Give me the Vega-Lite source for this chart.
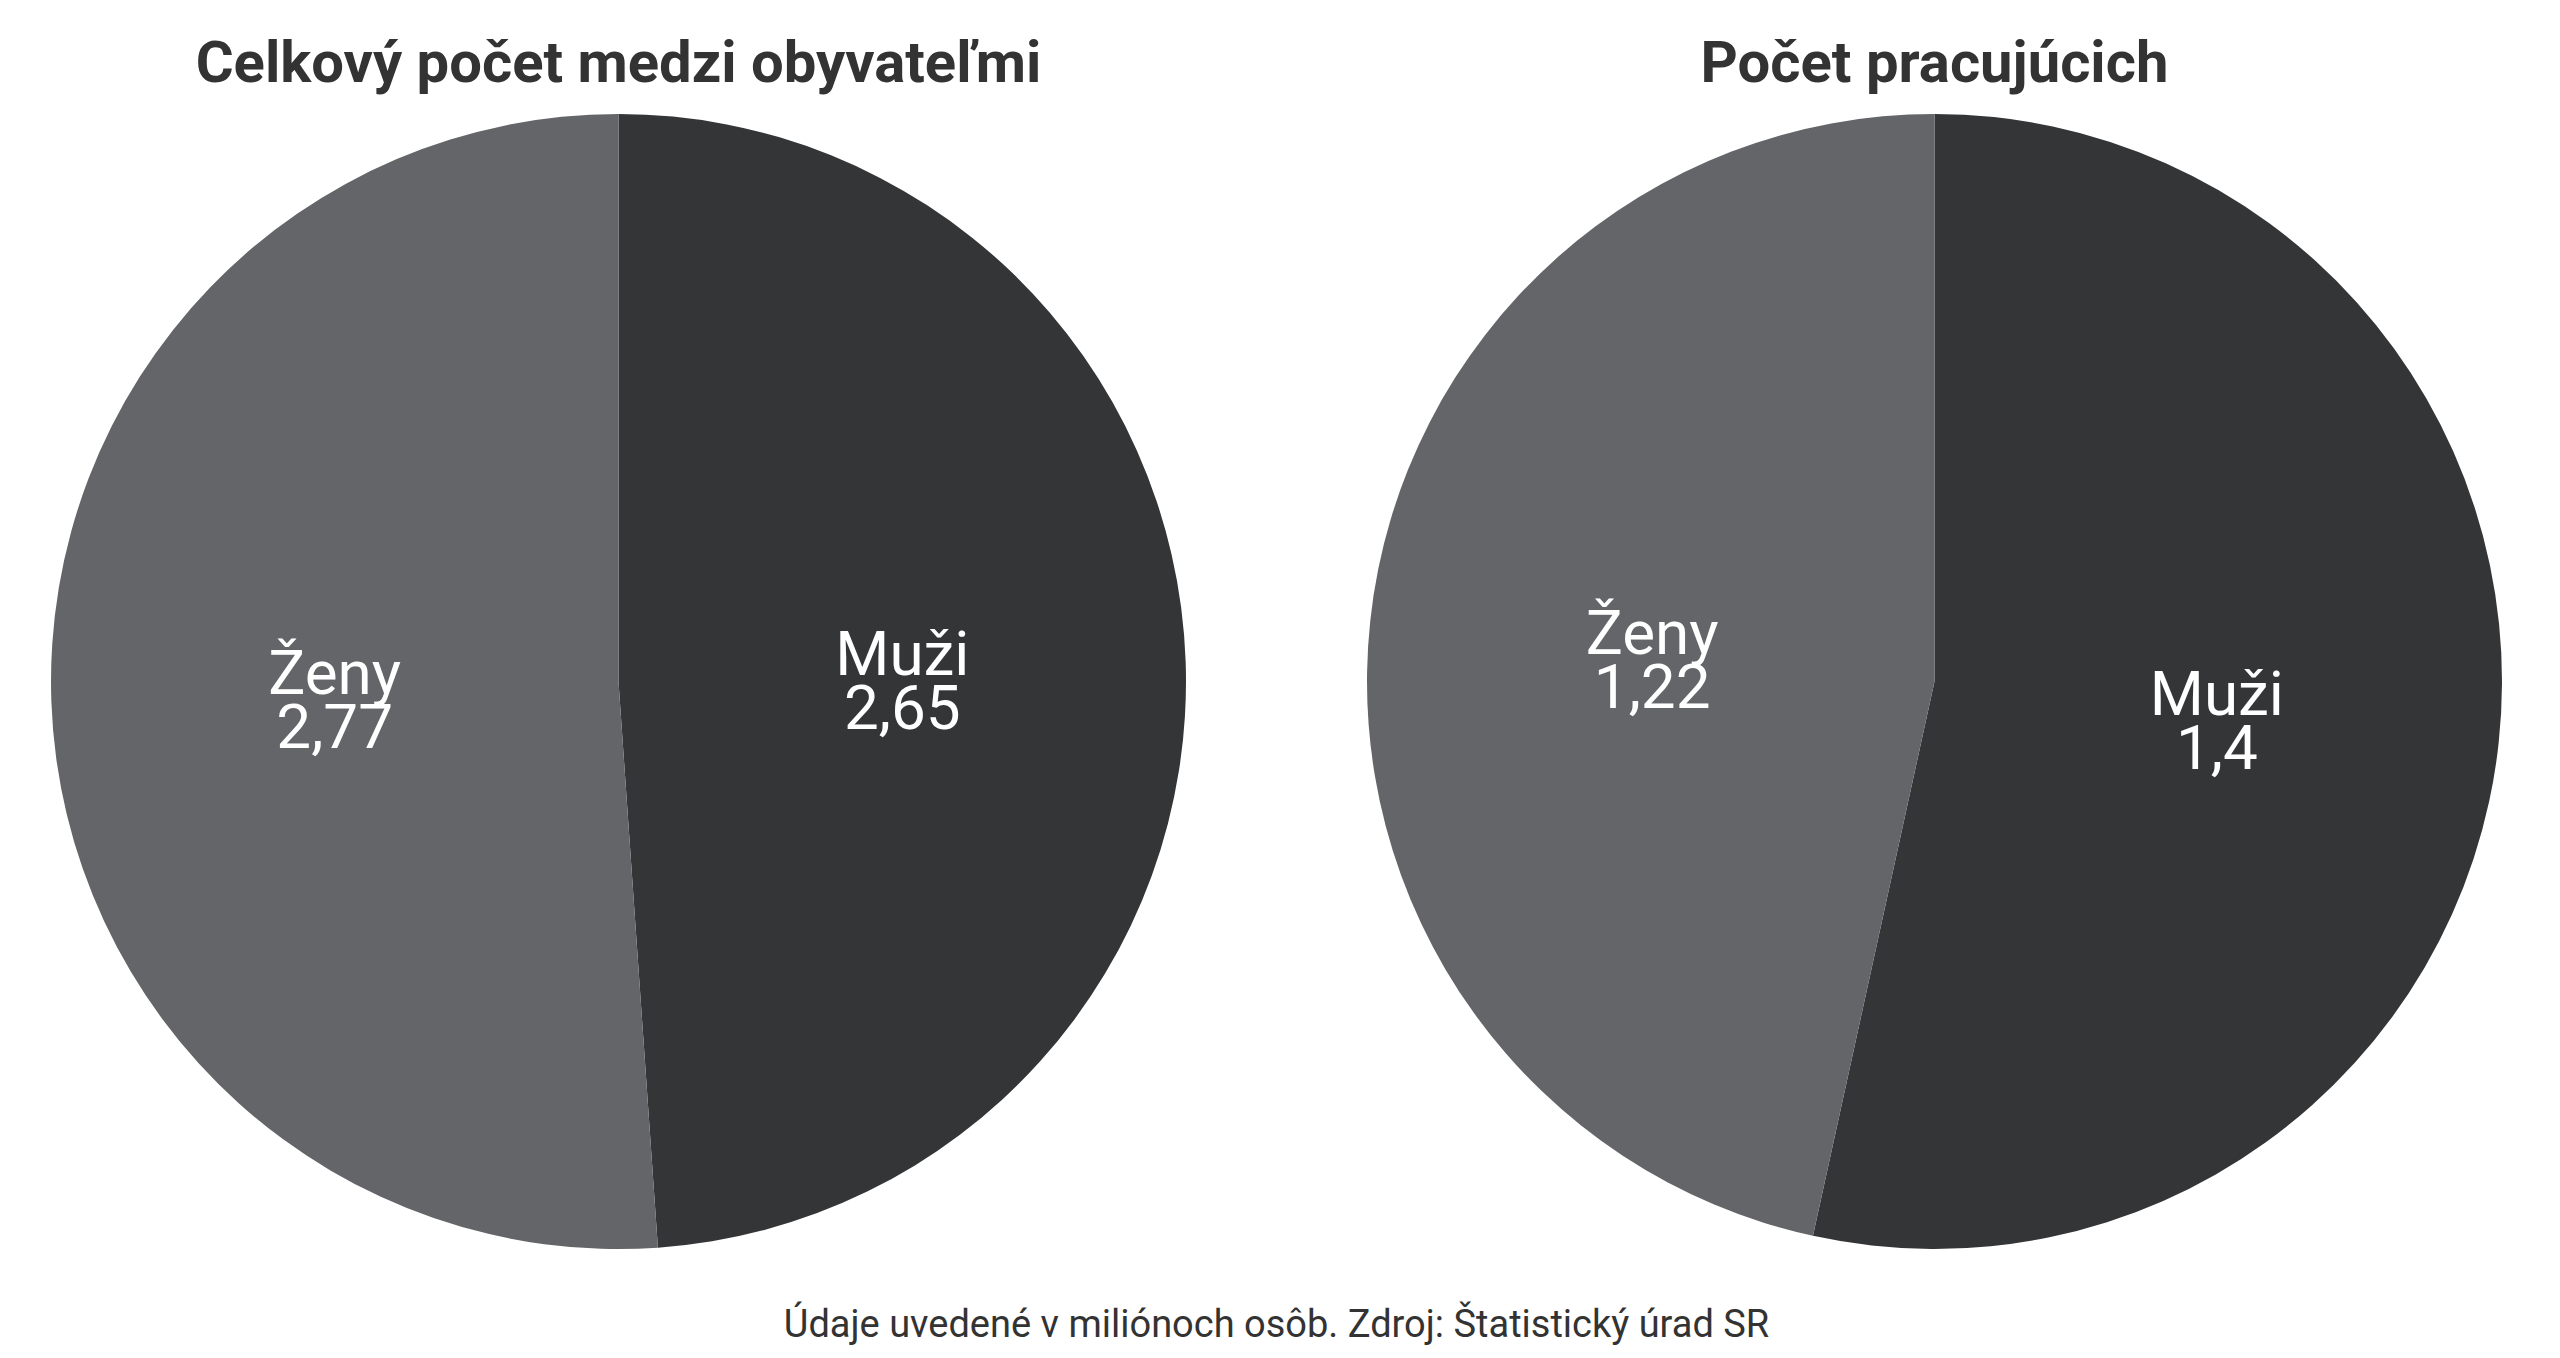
{
  "$schema": "https://vega.github.io/schema/vega-lite/v6.json",
  "background": "white",
  "padding": {"left": 51, "top": 36, "right": 10, "bottom": 10},
  "title": {
    "text": "Údaje uvedené v miliónoch osôb. Zdroj: Štatistický úrad SR",
    "orient": "bottom",
    "anchor": "middle",
    "font": "Roboto",
    "fontSize": 38,
    "fontWeight": "normal",
    "color": "#333333",
    "offset": 58
  },
  "data": {
    "values": [
      {"graf": "Celkový počet medzi obyvateľmi", "pohlavie": "Muži", "hodnota": 2.65},
      {"graf": "Celkový počet medzi obyvateľmi", "pohlavie": "Ženy", "hodnota": 2.77},
      {"graf": "Počet pracujúcich", "pohlavie": "Muži", "hodnota": 1.4},
      {"graf": "Počet pracujúcich", "pohlavie": "Ženy", "hodnota": 1.22}
    ]
  },
  "transform": [
    {"calculate": "datum.pohlavie + '\\n' + replace(format(datum.hodnota, '.3~'), '.', ',')", "as": "popis"}
  ],
  "facet": {
    "column": {
      "field": "graf",
      "type": "nominal",
      "sort": ["Celkový počet medzi obyvateľmi", "Počet pracujúcich"],
      "header": {
        "title": null,
        "labelFont": "Roboto",
        "labelFontSize": 58,
        "labelFontWeight": "bold",
        "labelColor": "#333333",
        "labelPadding": 20
      }
    }
  },
  "spacing": 181,
  "spec": {
    "width": 1135,
    "height": 1135,
    "encoding": {
      "theta": {"field": "hodnota", "type": "quantitative", "stack": true},
      "order": {"field": "pohlavie", "sort": "ascending"},
      "color": {
        "field": "pohlavie",
        "type": "nominal",
        "scale": {"domain": ["Muži", "Ženy"], "range": ["#343537", "#646569"]},
        "legend": null
      }
    },
    "layer": [
      {"mark": {"type": "arc"}},
      {
        "mark": {
          "type": "text",
          "radius": 284,
          "dy": -16,
          "font": "Roboto",
          "fontSize": 62,
          "lineHeight": 54,
          "lineBreak": "\n",
          "align": "center",
          "baseline": "middle",
          "color": "white"
        },
        "encoding": {
          "text": {"field": "popis", "type": "nominal"},
          "color": {"value": "white"}
        }
      }
    ]
  },
  "config": {
    "view": {"stroke": null}
  }
}
